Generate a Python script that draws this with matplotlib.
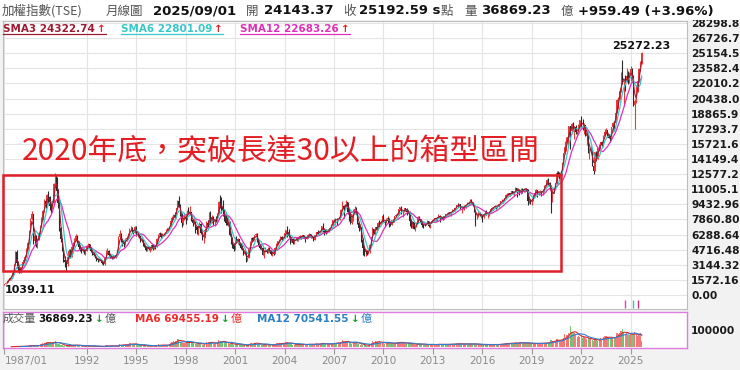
import numpy as np
import pandas as pd
import matplotlib
matplotlib.use('Agg')
import matplotlib.pyplot as plt
from matplotlib.lines import Line2D
from matplotlib.patches import Rectangle

# ---------------- data (monthly TAIEX, 1987/01 - 2025/09) ----------------
first_open = 1045.0
close = [
 1146, 1260, 1420, 1610, 1800, 1990, 2290, 3190, 4470, 3300, 2620, 2339,
 2900, 3400, 3650, 4000, 4800, 5400, 6700, 7900, 8400, 5600, 6100, 5119,
 5800, 6500, 7200, 8000, 8700, 9800, 9500, 10400, 10200, 9300, 9000, 9624,
 11500, 12400, 10800, 9600, 7000, 5800, 4800, 3600, 3400, 3200, 4000, 4530,
 4000, 5000, 5200, 5700, 6100, 5500, 5000, 4900, 4600, 4700, 4500, 4600,
 5100, 5300, 4800, 4600, 4300, 4200, 3900, 3700, 3600, 3700, 3500, 3377,
 3200, 3800, 4500, 4600, 4200, 4000, 3800, 4000, 3900, 4200, 4600, 6070,
 6300, 5600, 5400, 5300, 5800, 5900, 6200, 6900, 6900, 6700, 6500, 7124,
 6200, 6300, 6100, 5600, 5700, 5200, 5100, 4700, 5000, 4800, 4900, 5174,
 4800, 5100, 5000, 5800, 6200, 6400, 6000, 6300, 6300, 6500, 6800, 6933,
 7100, 7700, 8000, 8300, 8100, 9000, 9800, 9200, 8300, 7500, 8000, 8187,
 7900, 8700, 8600, 8600, 7800, 7500, 7600, 7100, 6800, 7200, 7400, 6418,
 5900, 5900, 6800, 7500, 7300, 8400, 7600, 8100, 7600, 7800, 7700, 8448,
 9700, 9400, 9000, 8700, 8200, 7500, 7400, 7600, 6200, 5500, 5200, 4739,
 5900, 5600, 5800, 5300, 4900, 4800, 4300, 4500, 3600, 3900, 4800, 5551,
 5900, 5700, 6200, 6300, 5700, 5200, 4900, 4900, 4200, 4600, 4700, 4452,
 4900, 4600, 4300, 4400, 4300, 4900, 5300, 5600, 5600, 6050, 5800, 5890,
 6400, 6800, 6500, 6100, 5600, 5800, 5400, 5800, 5850, 5700, 6000, 6140,
 5990, 6200, 6000, 5800, 6000, 6250, 6300, 6000, 6100, 5760, 6200, 6548,
 6500, 6600, 6600, 7170, 6800, 6700, 6450, 6600, 6900, 7020, 7250, 7823,
 7700, 7900, 7880, 7880, 8150, 8880, 9290, 8980, 9410, 9710, 8590, 8506,
 7520, 8410, 8570, 8920, 8620, 7520, 7020, 7050, 5720, 4870, 4460, 4591,
 4250, 4560, 5210, 6000, 6890, 6430, 7080, 6830, 7510, 7340, 7580, 8188,
 7640, 7440, 7920, 8000, 7370, 7330, 7760, 7620, 8240, 8290, 8370, 8973,
 9145, 8600, 8683, 9007, 8988, 8652, 8644, 7741, 7225, 7588, 6904, 7072,
 7518, 8121, 7933, 7501, 7301, 7296, 7270, 7397, 7715, 7166, 7580, 7700,
 7850, 7980, 7919, 8093, 8255, 8062, 8108, 7915, 8173, 8450, 8407, 8612,
 8462, 8640, 8849, 8791, 9075, 9393, 9315, 9436, 8967, 8974, 9187, 9307,
 9361, 9622, 9586, 9820, 9701, 9323, 8665, 8175, 8181, 8554, 8320, 8338,
 8145, 8411, 8744, 8377, 8535, 8667, 8984, 9068, 9167, 9290, 9240, 9254,
 9448, 9750, 9812, 9872, 10041, 10395, 10427, 10585, 10384, 10794, 10560, 10643,
 11104, 10815, 10919, 10657, 10875, 10837, 11057, 11064, 11006, 9802, 9889, 9727,
 9932, 10389, 10641, 10967, 10498, 10730, 10824, 10618, 10829, 11358, 11489, 11997,
 11495, 11292, 9708, 10992, 10943, 11621, 12664, 12592, 12516, 12546, 13722, 14733,
 15410, 15953, 16431, 17567, 17068, 17755, 17247, 17490, 16935, 16987, 17428, 18218,
 17674, 17652, 17693, 16592, 16807, 14826, 15000, 15095, 13425, 12949, 14880, 14138,
 15265, 15504, 15869, 15579, 16579, 16916, 17146, 16634, 16354, 16001, 17433, 17931,
 17890, 18966, 20294, 20397, 21175, 23032, 22200, 22268, 22225, 22821, 22262, 23035,
 23525, 22737, 19802, 20235, 21347, 22288, 23518, 24233, 25193,
]
high = [
 1160, 1290, 1450, 1650, 1830, 2050, 2350, 3250, 4600, 4673, 3400, 2800,
 2950, 3450, 3750, 4150, 4850, 5500, 6800, 8000, 8789, 8400, 6300, 6200,
 5900, 6600, 7300, 8100, 8800, 10000, 10100, 10500, 10800, 10300, 9500, 9800,
 11700, 12682, 12300, 11000, 9700, 7100, 5900, 4900, 4100, 3600, 4400, 4800,
 4800, 5100, 5500, 5900, 6365, 6200, 5600, 5200, 5000, 4900, 4800, 4700,
 5200, 5391, 5350, 4900, 4700, 4450, 4250, 3950, 3800, 3850, 3750, 3600,
 3450, 3900, 4700, 4900, 4700, 4300, 4100, 4150, 4100, 4300, 4700, 6100,
 6719, 6400, 5700, 5600, 5900, 6100, 6400, 7000, 7228, 7050, 6800, 7200,
 7180, 6450, 6400, 6150, 5900, 5750, 5450, 5150, 5050, 5100, 5000, 5200,
 5300, 5200, 5200, 5900, 6300, 6600, 6500, 6400, 6500, 6600, 6900, 7000,
 7200, 7800, 8200, 8450, 8600, 9100, 9900, 10256, 9500, 8500, 8100, 8500,
 8300, 8800, 9200, 9278, 8650, 7900, 8000, 7650, 7200, 7300, 7600, 7450,
 6500, 6100, 7000, 7700, 7800, 8600, 8700, 8300, 8250, 7950, 8200, 8500,
 9800, 10393, 10200, 9900, 8900, 8600, 8100, 8200, 7650, 6300, 6000, 5400,
 5950, 6104, 5950, 5850, 5400, 5200, 4900, 4700, 4500, 4000, 4800, 5650,
 6050, 6000, 6250, 6484, 6400, 5750, 5350, 5200, 4950, 4650, 4950, 4800,
 5000, 4950, 4700, 4600, 4600, 5000, 5400, 5650, 5800, 6182, 6100, 5900,
 6500, 6800, 7135, 6900, 6100, 6000, 5900, 5850, 6050, 5950, 6050, 6200,
 6150, 6200, 6250, 6050, 6050, 6300, 6480, 6380, 6150, 6150, 6250, 6600,
 6800, 6700, 6700, 7200, 7474, 6850, 6900, 6700, 6950, 7100, 7350, 7830,
 7950, 8000, 8000, 8050, 8200, 8900, 9807, 9400, 9500, 9859, 9700, 8800,
 8500, 8450, 8900, 9309, 9200, 8700, 7600, 7400, 7050, 5900, 5100, 4800,
 4700, 4700, 5300, 6000, 7084, 6900, 7100, 7150, 7600, 7800, 7700, 8200,
 8395, 7650, 8000, 8190, 8000, 7550, 7800, 7900, 8250, 8400, 8500, 8990,
 9145, 9220, 8700, 9050, 9100, 9000, 8800, 8700, 7800, 7700, 7600, 7200,
 7550, 8170, 8170, 7950, 7550, 7400, 7400, 7500, 7800, 7720, 7600, 7750,
 7900, 8000, 8000, 8100, 8400, 8290, 8200, 8150, 8250, 8470, 8450, 8620,
 8650, 8650, 8900, 8970, 9100, 9400, 9593, 9480, 9420, 9000, 9200, 9330,
 9400, 9630, 9700, 10014, 9950, 9700, 9400, 8750, 8500, 8700, 8650, 8450,
 8350, 8450, 8750, 8800, 8550, 8750, 9000, 9150, 9180, 9350, 9300, 9350,
 9500, 9800, 9970, 9900, 10100, 10500, 10600, 10600, 10600, 10850, 10870, 10700,
 11270, 11100, 11100, 11000, 11100, 11150, 11100, 11090, 11100, 11050, 10050, 10000,
 10000, 10400, 10700, 11000, 10950, 10800, 10950, 10850, 11000, 11400, 11600, 12100,
 12197, 11750, 11400, 11000, 11100, 11700, 12900, 12950, 12800, 12900, 13800, 14760,
 16000, 16400, 16500, 17600, 17600, 17900, 18034, 17600, 17700, 17100, 17800, 18250,
 18619, 18300, 17900, 17700, 17000, 16800, 15300, 15500, 15200, 13500, 14900, 15000,
 15300, 15700, 15900, 15900, 16600, 17300, 17400, 17100, 16700, 16600, 17450, 18000,
 18100, 19000, 20400, 20600, 21500, 23200, 24416, 22300, 22900, 23600, 23300, 23200,
 23800, 23600, 22900, 20400, 21900, 22500, 23600, 24300, 25272,
]
low = [
 1039, 1120, 1240, 1400, 1580, 1780, 1950, 2260, 3150, 2800, 2400, 2298,
 2300, 2850, 3300, 3550, 3950, 4700, 5300, 6600, 7800, 5300, 5400, 5000,
 4850, 5700, 6400, 7100, 7800, 8600, 9000, 9400, 9600, 8800, 8500, 8900,
 9600, 11200, 10200, 9000, 6700, 5500, 4600, 3400, 2900, 2485, 3000, 3800,
 3900, 3950, 4800, 5100, 5600, 5300, 4800, 4600, 4400, 4450, 4300, 4200,
 4550, 4950, 4700, 4450, 4200, 4050, 3800, 3550, 3400, 3500, 3400, 3250,
 3098, 3150, 3750, 4350, 4100, 3900, 3700, 3750, 3800, 3850, 4150, 4550,
 5900, 5500, 5150, 5000, 5200, 5600, 5800, 6150, 6700, 6500, 6300, 6400,
 6100, 6000, 5900, 5500, 5500, 5100, 4950, 4600, 4550, 4700, 4500, 4700,
 4672, 4750, 4750, 4950, 5750, 6100, 5900, 5950, 6150, 6200, 6400, 6700,
 6800, 7050, 7600, 7800, 7900, 8050, 8950, 9150, 8200, 7040, 7300, 7800,
 7400, 7800, 8400, 8400, 7700, 7200, 7350, 6400, 6300, 6250, 7000, 6300,
 5750, 5422, 5900, 6700, 7100, 7300, 7400, 7500, 7300, 7200, 7600, 7700,
 8400, 9000, 8500, 8200, 7700, 7300, 7300, 7200, 6100, 5300, 4900, 4555,
 4700, 5500, 5350, 5200, 4800, 4650, 4200, 4250, 3411, 3500, 3800, 4650,
 5500, 5600, 5700, 6100, 5550, 5100, 4800, 4650, 4200, 3850, 4450, 4400,
 4400, 4500, 4200, 4044, 4200, 4300, 4850, 5250, 5450, 5600, 5600, 5700,
 5900, 6350, 6000, 6000, 5300, 5500, 5255, 5350, 5700, 5600, 5650, 5800,
 5850, 5950, 5950, 5565, 5800, 5950, 6200, 5950, 5950, 5618, 5700, 6150,
 6350, 6400, 6400, 6600, 6600, 6232, 6360, 6400, 6550, 6800, 6950, 7200,
 7600, 7300, 7300, 7750, 7800, 8100, 8800, 7987, 8900, 9200, 8400, 7700,
 7400, 7400, 7700, 8500, 8500, 7400, 6700, 6900, 5500, 4110, 4089, 4100,
 4200, 4250, 4400, 5150, 6000, 6300, 6200, 6600, 6800, 7100, 7300, 7500,
 7550, 7080, 7450, 7800, 7032, 7200, 7300, 7600, 7600, 8100, 8300, 8350,
 8850, 8400, 8070, 8600, 8700, 8350, 8500, 7150, 7000, 6950, 6900, 6609,
 7050, 7500, 7850, 7450, 7050, 7000, 7180, 7250, 7400, 7100, 6980, 7550,
 7600, 7700, 7750, 7700, 8000, 7600, 7950, 7800, 7920, 8150, 8200, 8300,
 8300, 8250, 8600, 8750, 8700, 9000, 9200, 9250, 8900, 8500, 8900, 8800,
 9000, 9350, 9400, 9500, 9500, 9250, 8600, 7203, 7950, 8100, 8250, 8000,
 7627, 7980, 8350, 8350, 8050, 8200, 8650, 8950, 8900, 9100, 8900, 9000,
 9200, 9400, 9700, 9600, 9800, 10000, 10350, 10300, 10350, 10400, 10500, 10300,
 10700, 10189, 10700, 10400, 10500, 10600, 10700, 10700, 10850, 9400, 9600, 9500,
 9319, 9800, 10250, 10600, 10200, 10400, 10650, 10300, 10400, 10700, 11300, 11400,
 11400, 11100, 8523, 9700, 10600, 10900, 11600, 12400, 12100, 12300, 12500, 13800,
 14700, 15000, 15500, 16400, 15160, 16700, 17100, 16200, 16800, 16400, 16900, 17400,
 17500, 17200, 16700, 16500, 15600, 14800, 14100, 14900, 13400, 12629, 12900, 14000,
 14200, 15300, 15200, 15500, 15400, 16500, 16800, 16400, 16300, 15900, 16200, 17200,
 17100, 17900, 18900, 19400, 20300, 21100, 22000, 19662, 21200, 22200, 22000, 22100,
 22300, 22700, 19700, 17306, 20000, 21100, 22200, 23300, 24000,
]
volume = [  # 億
 1200, 1300, 1500, 1800, 2000, 2300, 2600, 3500, 4500, 3500, 2000, 1800,
 3000, 4000, 4500, 5000, 6500, 7500, 9000, 11000, 12000, 5000, 6000, 5000,
 9000, 12000, 15000, 18000, 22000, 26000, 25000, 28000, 27000, 24000, 22000, 25000,
 32000, 33000, 26000, 20000, 15000, 12000, 10000, 8000, 7000, 6000, 9000, 10000,
 7000, 11000, 12000, 13000, 14000, 9000, 7000, 6000, 5000, 6000, 5000, 5000,
 8000, 9000, 7000, 5000, 4500, 4000, 3500, 3000, 3000, 3500, 3500, 3000,
 2500, 4500, 9000, 10000, 7000, 6000, 5000, 5500, 5000, 6000, 8000, 14000,
 18000, 12000, 11000, 10000, 13000, 14000, 16000, 21000, 22000, 18000, 15000, 17000,
 15000, 10000, 10000, 9000, 9000, 8000, 8000, 7000, 8000, 7000, 6000, 6500,
 5500, 6500, 6500, 11000, 15000, 14000, 10000, 9000, 9000, 10000, 12000, 13000,
 16000, 22000, 30000, 33000, 32000, 38000, 48000, 45000, 32000, 28000, 25000, 26000,
 22000, 28000, 32000, 30000, 26000, 22000, 22000, 20000, 18000, 20000, 24000, 19000,
 14000, 13000, 22000, 30000, 26000, 30000, 28000, 25000, 20000, 18000, 22000, 28000,
 40000, 38000, 35000, 30000, 26000, 22000, 22000, 26000, 18000, 16000, 15000, 13000,
 20000, 17000, 18000, 14000, 12000, 11000, 9000, 10000, 9000, 11000, 18000, 22000,
 25000, 18000, 24000, 26000, 20000, 16000, 14000, 13000, 12000, 14000, 15000, 12000,
 14000, 12000, 11000, 12000, 13000, 17000, 21000, 22000, 21000, 25000, 18000, 16000,
 24000, 28000, 30000, 24000, 18000, 16000, 14000, 14000, 16000, 15000, 16000, 15000,
 12000, 16000, 16000, 14000, 13000, 17000, 19000, 17000, 14000, 13000, 17000, 21000,
 20000, 16000, 19000, 26000, 24000, 17000, 15000, 15000, 16000, 19000, 22000, 25000,
 24000, 22000, 24000, 24000, 26000, 32000, 42000, 34000, 28000, 33000, 28000, 22000,
 22000, 20000, 28000, 30000, 28000, 20000, 17000, 14000, 16000, 12000, 9000, 10000,
 8000, 12000, 18000, 24000, 36000, 30000, 33000, 28000, 32000, 28000, 24000, 26000,
 26000, 18000, 24000, 26000, 24000, 18000, 20000, 20000, 24000, 26000, 28000, 30000,
 30000, 24000, 24000, 22000, 22000, 20000, 19000, 22000, 17000, 17000, 16000, 14000,
 12000, 20000, 22000, 18000, 15000, 13000, 12000, 14000, 15000, 14000, 13000, 14000,
 16000, 14000, 15000, 16000, 18000, 16000, 15000, 15000, 14000, 16000, 15000, 15000,
 17000, 14000, 20000, 18000, 17000, 18000, 21000, 19000, 19000, 18000, 17000, 18000,
 17000, 15000, 19000, 19000, 18000, 17000, 17000, 19000, 14000, 15000, 14000, 14000,
 12000, 10000, 16000, 14000, 13000, 15000, 16000, 15000, 14000, 14000, 15000, 14000,
 15000, 17000, 20000, 17000, 20000, 24000, 22000, 22000, 20000, 23000, 25000, 21000,
 28000, 21000, 26000, 26000, 28000, 25000, 23000, 22000, 22000, 26000, 22000, 18000,
 18000, 16000, 22000, 24000, 22000, 20000, 22000, 22000, 22000, 25000, 24000, 25000,
 24000, 30000, 40000, 36000, 32000, 38000, 48000, 45000, 40000, 36000, 42000, 52000,
 75000, 72000, 70000, 82000, 125000, 85000, 90000, 80000, 70000, 60000, 65000, 60000,
 65000, 50000, 60000, 52000, 48000, 50000, 45000, 50000, 42000, 38000, 45000, 40000,
 38000, 45000, 50000, 45000, 58000, 62000, 65000, 60000, 52000, 48000, 55000, 58000,
 60000, 55000, 82000, 78000, 80000, 92000, 105000, 85000, 75000, 80000, 72000, 70000,
 80000, 78000, 70000, 90000, 68000, 64000, 75000, 83000, 36869,
]
x_tick_years = [1987, 1992, 1995, 1998, 2001, 2004, 2007, 2010, 2013, 2016, 2019, 2022, 2025]
x_tick_labels = ['1987/01', '1992', '1995', '1998', '2001', '2004', '2007',
                 '2010', '2013', '2016', '2019', '2022', '2025']
price_labels = ['0.00', '1572.16', '3144.32', '4716.48', '6288.64', '7860.80', '9432.96',
                '11005.1', '12577.2', '14149.4', '15721.6', '17293.7', '18865.9',
                '20438.0', '22010.2', '23582.4', '25154.5', '26726.7', '28298.8']
vol_tick_labels = ['100000']
low_label = '1039.11'
high_label = '25272.23'
title_text = '2020年底，突破長達30以上的箱型區間'

# ---------------- prep ----------------
close_a = np.array(close, float)
high_a = np.array(high, float)
low_a = np.array(low, float)
vol_a = np.array(volume, float)
open_a = np.concatenate([[first_open], close_a[:-1]])
n = len(close_a)
xi = np.arange(n)
up = close_a >= open_a
sma3 = pd.Series(close_a).rolling(3).mean()
sma6 = pd.Series(close_a).rolling(6).mean()
sma12 = pd.Series(close_a).rolling(12).mean()
vma6 = pd.Series(vol_a).rolling(6).mean()
vma12 = pd.Series(vol_a).rolling(12).mean()
tick_idx = [(y - 1987) * 12 for y in x_tick_years]

W, H = 740, 370
CJK = ['Noto Sans CJK TC', 'DejaVu Sans']
fig = plt.figure(figsize=(W / 100, H / 100), dpi=100, facecolor='#f2f2f2')
fig.patches.append(Rectangle((0, 1 - 20 / H), 1, 20 / H, transform=fig.transFigure,
                             facecolor='white', edgecolor='none', zorder=0))

ax = fig.add_axes([3 / W, 1 - 309 / H, 684 / W, 288 / H])
axv = fig.add_axes([3 / W, 1 - 348 / H, 684 / W, 36 / H])

XMIN, XMAX = -1, 497
# ---- main price panel ----
ax.set_facecolor('white')
ax.set_xlim(XMIN, XMAX)
ax.set_ylim(-1457, 28509)
ax.set_yticks([float(s) for s in price_labels])
ax.set_yticklabels(price_labels)
ax.yaxis.tick_right()
ax.tick_params(axis='y', length=0, pad=3, labelsize=7.7, labelcolor='#1a1a1a')
for t in ax.get_yticklabels():
    t.set_fontweight('bold')
ax.set_xticks(tick_idx)
ax.tick_params(axis='x', length=0, labelbottom=False)
ax.grid(True, color='#e4e4e4', lw=0.8)
ax.set_axisbelow(True)
for s in ax.spines.values():
    s.set_color('#bdbdbd')
    s.set_linewidth(0.8)

ccol = np.where(up, '#e83a3a', '#2b2b2b')
ax.vlines(xi, low_a, high_a, colors=ccol, lw=0.8, zorder=3)
ax.bar(xi, np.abs(close_a - open_a), bottom=np.minimum(open_a, close_a), width=0.7,
       color=ccol, edgecolor='none', zorder=3)
ax.plot(xi, sma12, color='#e030b8', lw=0.9, zorder=4)
ax.plot(xi, sma6, color='#38c8c8', lw=0.9, zorder=4)
ax.plot(xi, sma3, color='#9c1a32', lw=0.8, zorder=4)
ax.vlines([452, 458, 461], -1350, -520, colors=['#e040c0', '#30c0c0', '#c03070'], lw=1)

fig.text(5 / W, 1 - 290 / H, low_label, ha='left', va='center', fontsize=8,
         fontweight='bold', color='#111')
fig.text(612 / W, 1 - 46 / H, high_label, ha='left', va='center', fontsize=8,
         fontweight='bold', color='#111')

fig.patches.append(Rectangle((3 / W, 1 - 271 / H), 558 / W, 96 / H, transform=fig.transFigure,
                             fill=False, edgecolor='#e01e26', lw=1.8, zorder=10))
fig.text(22 / W, 1 - 152 / H, title_text, ha='left', va='center', fontsize=21.5,
         color='#e31e24', family=CJK)

# ---- volume panel ----
axv.set_facecolor('white')
axv.set_xlim(XMIN, XMAX)
axv.set_ylim(-5900, 205900)
vcol = np.where(up, '#f47878', '#78c478')
axv.bar(xi, vol_a, width=0.85, color=vcol, edgecolor='none', zorder=2)
axv.plot(xi, vma6, color='#e02828', lw=0.8, zorder=3)
axv.plot(xi, vma12, color='#2f7fd0', lw=0.8, zorder=3)
axv.set_yticks([float(s) for s in vol_tick_labels])
axv.set_yticklabels(vol_tick_labels)
axv.yaxis.tick_right()
axv.tick_params(axis='y', length=0, pad=3, labelsize=7.7, labelcolor='#1a1a1a')
for t in axv.get_yticklabels():
    t.set_fontweight('bold')
axv.set_xticks(tick_idx)
axv.set_xticklabels(x_tick_labels)
axv.tick_params(axis='x', length=4, width=0.8, color='#9a9a9a', pad=2,
                labelsize=7.5, labelcolor='#8a8a8a')
axv.get_xticklabels()[0].set_ha('left')
axv.grid(True, axis='x', color='#e4e4e4', lw=0.8)
axv.set_axisbelow(True)
for s in axv.spines.values():
    s.set_color('#e07ce0')
    s.set_linewidth(1.0)

# ---- header texts ----
renderer = fig.canvas.get_renderer()


def ftext(x, y, s, **kw):
    return fig.text(x / W, 1 - y / H, s, ha='left', va='center', **kw)


gray = '#555555'
hb = dict(fontsize=9.5, fontweight='bold', color='#111111')
hc = dict(fontsize=9, color=gray, family=CJK)
ftext(2, 11, '加權指數(TSE)', **hc)
ftext(106, 11, '月線圖', **hc)
ftext(153, 11, '2025/09/01', **hb)
ftext(246, 11, '開', **hc)
ftext(264, 11, '24143.37', **hb)
ftext(343, 11, '收', **hc)
ftext(359, 11, '25192.59 s', **hb)
ftext(441, 11, '點', **hc)
ftext(464, 11, '量', **hc)
ftext(481, 11, '36869.23', **hb)
ftext(561, 11, '億', **hc)
ftext(578, 11, '+959.49 (+3.96%)', **hb)

# SMA legend row
for x0, s, col in [(3, 'SMA3 24322.74', '#9c1a32'), (121, 'SMA6 22801.09', '#38c8c8'),
                   (240, 'SMA12 22683.26', '#e030b8')]:
    t = ftext(x0, 29, s, fontsize=7.5, fontweight='bold', color=col)
    bb = t.get_window_extent(renderer=renderer)
    a = ftext(bb.x1 + 2, 29, '↑', fontsize=7.5, fontweight='bold', color='#e02020')
    bb2 = a.get_window_extent(renderer=renderer)
    fig.add_artist(Line2D([bb.x0 / W, bb2.x1 / W], [1 - 34 / H, 1 - 34 / H],
                          transform=fig.transFigure, color=col, lw=0.9))

# volume legend row
ftext(3, 319, '成交量', fontsize=8, color=gray, family=CJK)
for x0, s, col, ycol in [(38, '36869.23', '#111111', gray), (135, 'MA6 69455.19', '#ee2a2a', '#ee2a2a'),
                         (257, 'MA12 70541.55', '#2a7fc0', '#2a7fc0')]:
    t = ftext(x0, 319, s, fontsize=7.5, fontweight='bold', color=col)
    bb = t.get_window_extent(renderer=renderer)
    a = ftext(bb.x1 + 2, 319, '↓', fontsize=7.5, fontweight='bold', color='#1a9a2a')
    bb2 = a.get_window_extent(renderer=renderer)
    ftext(bb2.x1 + 1, 319, '億', fontsize=8, color=ycol, family=CJK)

fig.savefig('out.png', dpi=100, facecolor=fig.get_facecolor())
